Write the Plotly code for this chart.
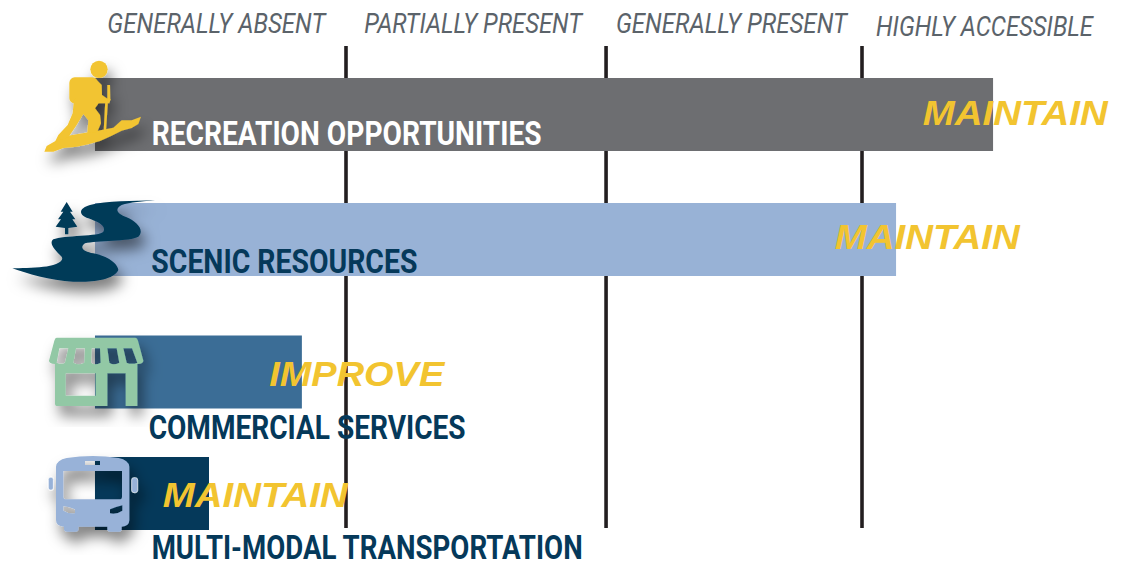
import base64
import json
import plotly.graph_objects as go

# Values, x axis is the access level (boundaries near 1, 2, 3)
levels = ["GENERALLY ABSENT", "PARTIALLY PRESENT", "GENERALLY PRESENT", "HIGHLY ACCESSIBLE"]
level_lines = [1, 2.008, 3]
categories = ["RECREATION OPPORTUNITIES", "SCENIC RESOURCES", "COMMERCIAL SERVICES", "MULTI-MODAL TRANSPORTATION"]
scores = [3.508, 3.132, 0.829, 0.469]
actions = ["MAINTAIN", "MAINTAIN", "IMPROVE", "MAINTAIN"]
bar_colors = ["#6d6e71", "#98b2d6", "#3b6d96", "#05395a"]

W, H = 1123, 561
bar_start = 0.027
bar_rows = [114.5, 239.5, 372, 493.5]

# pixel centres of the text
level_spots = [(217, 24), (474, 24), (731.5, 24), (984.5, 27)]
label_spots = [(346, 133), (284, 261), (307, 427), (366.5, 547)]
action_spots = [(1015.5, 112), (927.5, 236), (357.5, 373), (255.5, 494)]

# the original type is condensed, so each text gets squeezed to its width in the page
text_widths = {
    "GENERALLY ABSENT": 218, "PARTIALLY PRESENT": 218, "GENERALLY PRESENT": 231, "HIGHLY ACCESSIBLE": 217,
    "RECREATION OPPORTUNITIES": 390, "SCENIC RESOURCES": 266, "COMMERCIAL SERVICES": 317,
    "MULTI-MODAL TRANSPORTATION": 431, "MAINTAIN": 185, "IMPROVE": 175,
}


def icon(body, left, top, width, height):
    # small svg with a soft drop shadow, coordinates are 3x pixels
    svg = (
        f'<svg xmlns="http://www.w3.org/2000/svg" width="{width}" height="{height}" '
        f'viewBox="0 0 {width * 3} {height * 3}">'
        '<defs><filter id="s" x="-30%" y="-30%" width="160%" height="160%">'
        '<feDropShadow dx="14" dy="30" stdDeviation="20" flood-color="#000" flood-opacity="0.5"/>'
        f'</filter></defs><g filter="url(#s)">{body}</g></svg>'
    )
    uri = "data:image/svg+xml;base64," + base64.b64encode(svg.encode()).decode()
    return dict(
        source=uri, xref="paper", yref="paper", x=left / W, y=1 - top / H,
        sizex=width / W, sizey=height / H, xanchor="left", yanchor="top",
        sizing="stretch", layer="above",
    )


hiker = """
<g fill="#f2c430">
<circle cx="297" cy="88" r="26"/>
<rect x="208" y="112" width="85" height="78" rx="16"/>
<path d="M133 335 L140 318 L165 304 L200 288 L230 283 L290 273 L340 263 L365 241 L395 241 L423 230
 L415 252 L395 264 L365 272 L335 287 L300 303 L265 313 L230 320 L190 324 L160 335 Z"/>
<path d="M222 180 L285 115 L305 135 L306 165 L320 175 L332 178 L328 190 L296 190 L285 205 L300 225
 L303 250 L292 275 L262 280 L265 240 L250 222 L228 258 L205 292 L165 305 L175 285 L203 255 L218 220 Z"/>
<path d="M322 135 L330 135 L331 180 L322 180 Z M316 180 L324 180 L318 275 L311 275 Z"/>
</g>"""

river = """
<path fill="#053a59" d="M465 481 C400 483 320 483 270 495 C235 505 235 525 265 535 C290 545 320 555 310 575
 C300 590 190 585 160 598 C145 610 165 630 185 650 C195 665 160 678 130 680 C100 684 60 684 37 685
 C80 700 150 722 220 725 C270 727 340 722 355 690 C352 665 310 645 280 640 C255 635 235 625 255 610
 C290 600 390 605 415 590 C435 570 410 545 380 532 C355 522 340 510 365 495 C390 487 430 484 465 481 Z"/>
<path fill="#053a59" d="M200 486 L218 515 L210 515 L226 538 L217 538 L232 560 L205 564 L205 583 L195 583
 L195 564 L167 560 L183 538 L174 538 L190 515 L182 515 Z"/>"""

store = """
<path fill="#92c8a5" fill-rule="evenodd" d="M170 53 L406 53 Q412 53 414 62 L430 122 Q430 130 414 132 L412 132
 L412 258 L377 258 L377 160 L322 160 L322 258 L170 258 Q165 258 165 252 L165 132 Q147 130 147 122 L163 62 Q165 53 170 53 Z
 M197 160 L197 227 L287 227 L287 160 Z
 M178 85 L205 85 L195 128 Q185 135 170 128 Z
 M228 85 L255 85 L253 128 Q235 137 220 128 Z
 M275 85 L300 85 L302 128 Q285 137 273 128 Z
 M322 85 L350 85 L358 128 Q340 137 328 128 Z
 M370 85 L396 85 L412 128 Q395 135 380 128 Z"/>"""

bus = """
<path fill="#98b2d8" fill-rule="evenodd" d="M168 440 Q170 420 200 414 Q278 402 356 414 Q386 420 388 440 L388 600 Q388 618 365 620
 L365 628 Q365 635 355 635 L332 635 Q322 635 322 628 L322 620 L235 620 L235 628 Q235 635 225 635 L202 635 Q192 635 192 628 L192 620
 Q168 618 168 600 Z
 M190 453 L190 530 Q190 538 198 538 L358 538 Q366 538 366 530 L366 453 Z
 M255 423 L255 435 L300 435 L300 423 Z
 M190 558 L190 572 Q205 582 225 580 L225 568 Q210 560 190 558 Z
 M367 556 L367 572 Q350 584 330 580 L330 568 Q348 560 367 556 Z"/>
<rect x="145" y="472" width="15" height="38" rx="6" fill="#98b2d8" stroke="#fff" stroke-width="2"/>
<rect x="395" y="473" width="18" height="45" rx="7" fill="#98b2d8" stroke="#fff" stroke-width="2"/>"""

fig = go.Figure()
fig.add_trace(go.Bar(
    y=bar_rows,
    x=[s - bar_start for s in scores],
    base=bar_start,
    orientation="h",
    width=73,
    marker=dict(color=bar_colors, line=dict(width=0)),
    customdata=categories,
    hovertemplate="%{customdata}<extra></extra>",
))

# level boundaries sit under the bars
shapes = [
    dict(type="line", xref="x", yref="y", x0=v, x1=v, y0=46, y1=528, layer="below",
         line=dict(color="#231f20", width=3.6))
    for v in level_lines
]
# white strip behind the commercial label breaks the first line
shapes.append(dict(type="rect", xref="paper", yref="paper", x0=146 / W, x1=466 / W,
                   y0=1 - 445 / H, y1=1 - 410 / H, layer="below",
                   fillcolor="white", line=dict(width=0)))


def note(text, spot, family, size, color, style="normal", weight=700):
    px, py = spot
    return dict(
        text=text, xref="paper", yref="paper", x=px / W, y=1 - py / H,
        xanchor="center", yanchor="middle", showarrow=False,
        font=dict(family=family, size=size, color=color, style=style, weight=weight),
    )


annotations = []
for text, spot in zip(levels, level_spots):
    annotations.append(note(text, spot, "Roboto", 27, "#5b636a", "italic", 400))
label_colors = ["#ffffff", "#05395a", "#05395a", "#05395a"]
for text, spot, col in zip(categories, label_spots, label_colors):
    annotations.append(note(text, spot, "Roboto", 34, col))
for text, spot in zip(actions, action_spots):
    annotations.append(note(text, spot, "Liberation Sans", 35, "#f2c430", "italic"))

fig.update_layout(
    width=W,
    height=H,
    margin=dict(l=0, r=0, t=0, b=0),
    paper_bgcolor="white",
    plot_bgcolor="white",
    showlegend=False,
    shapes=shapes,
    annotations=annotations,
    images=[
        icon(hiker, 0, 40, 300, 260),
        icon(river, 0, 40, 300, 280),
        icon(store, 0, 320, 300, 120),
        icon(bus, 0, 320, 300, 240),
    ],
    xaxis=dict(range=[-88 / 258, (W - 88) / 258], visible=False, fixedrange=True),
    yaxis=dict(range=[H, 0], visible=False, fixedrange=True),
)

squeeze = """
document.body.style.margin = '0';
var widths = %s;
document.querySelectorAll('.annotation-text').forEach(function (t) {
    var w = widths[t.textContent];
    if (w) {
        t.setAttribute('textLength', w);
        t.setAttribute('lengthAdjust', 'spacingAndGlyphs');
    }
});
""" % json.dumps(text_widths)

fig.write_html("out.html", post_script=squeeze, config={"displayModeBar": False})
